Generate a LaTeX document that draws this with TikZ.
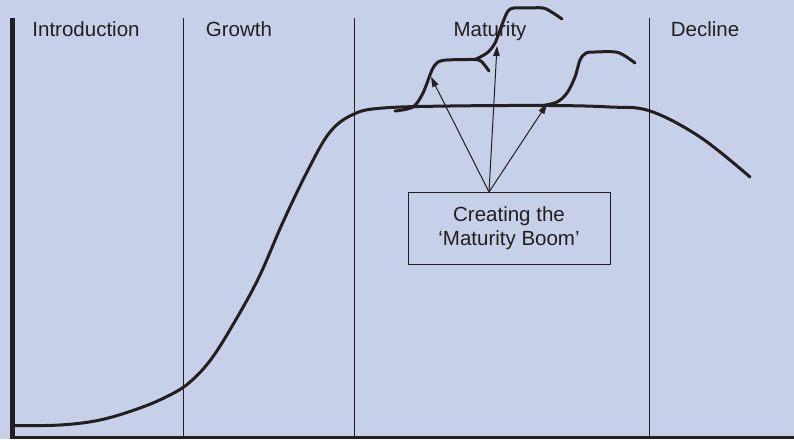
\documentclass[tikz,border=0pt]{standalone}
\usepackage{fontspec}
\setmainfont{Liberation Sans}
\usetikzlibrary{arrows.meta}
\definecolor{bgblue}{RGB}{198,208,232}
\definecolor{ink}{RGB}{35,31,32}
\tikzset{
  phase/.style={draw=ink, line width=1pt},
  axisline/.style={draw=ink, line width=5pt},
  curve/.style={draw=ink, line width=3pt, line cap=round, line join=round},
  label/.style={text=ink, font=\fontsize{20.5}{24}\selectfont, inner sep=0pt},
  boxnode/.style={draw=ink, line width=1pt, fill=bgblue, text=ink, align=center,
     minimum width=202pt, minimum height=72pt, font=\fontsize{20.5}{24}\selectfont},
  pointer/.style={draw=ink, line width=1pt, -{Triangle[length=10pt,width=6.5pt]}}
}
\begin{document}
\begin{tikzpicture}[x=1pt,y=-1pt]
\useasboundingbox (0,0) rectangle (794,439);
\fill[bgblue] (0,0) rectangle (794,439);
% phase separators
\coordinate (s1t) at (183,18); \coordinate (s1b) at (183,437);
\coordinate (s2t) at (354,18); \coordinate (s2b) at (354,437);
\coordinate (s3t) at (649,18); \coordinate (s3b) at (649,437);
\draw[phase] (s1t) -- (s1b);
\draw[phase] (s2t) -- (s2b);
\draw[phase] (s3t) -- (s3b);
% axes
\coordinate (ytop) at (12.5,18); \coordinate (orig) at (12.5,437.5); \coordinate (xend) at (794,437.5);
\draw[axisline, line width=5pt] (ytop) -- (12.5,439);
\draw[axisline, line width=3pt] (10,437.5) -- (xend);
% labels
\node[label, anchor=base] (intro) at (86,36.5) {Introduction};
\node[label, anchor=base] (growth) at (239,36.5) {Growth};
\node[label, anchor=base] (matur) at (490,36.5) {Maturity};
\node[label, anchor=base] (decl) at (705,36.5) {Decline};
% main life-cycle curve
\draw[curve] plot[smooth, tension=0.6] coordinates {
 (15,425.5) (60,425) (100,420) (140,408) (170,395) (190,382) (212,358) (238,316)
 (260,275) (283,222) (308,170) (330,132) (354,114) (383,108) (450,106)
 (550,105.5) (610,107) (650,111) (700,137) (750,177)};
% bump 1 and its fork
\draw[curve] plot[smooth, tension=0.5] coordinates {
 (395,111) (413,107) (423,93) (432,70) (438,62) (447,60) (468,59.5) (475,59.5)};
\draw[curve] (475,59.5) .. controls (481,60) .. (489,71);
\draw[curve] plot[smooth, tension=0.5] coordinates {
 (475,59.5) (487,53) (495,43) (503,22) (508,11) (514,8) (530,8) (545,8.5) (562,19)};
% bump 2
\draw[curve] plot[smooth, tension=0.5] coordinates {
 (541,106) (557,102) (567,93) (575,77) (580,60) (586,53) (595,52) (618,52.5) (635,63)};
% arrow targets
\coordinate (t1) at (431,77);
\coordinate (t2) at (497,46);
\coordinate (t3) at (547,104);
% box
\node[boxnode] (boom) at (509,228) {Creating the\\`Maturity Boom'};
\coordinate (apex) at (489,192);
\draw[pointer] (apex) -- (t1);
\draw[pointer] (apex) -- (t2);
\draw[pointer] (apex) -- (t3);
\end{tikzpicture}
\end{document}
